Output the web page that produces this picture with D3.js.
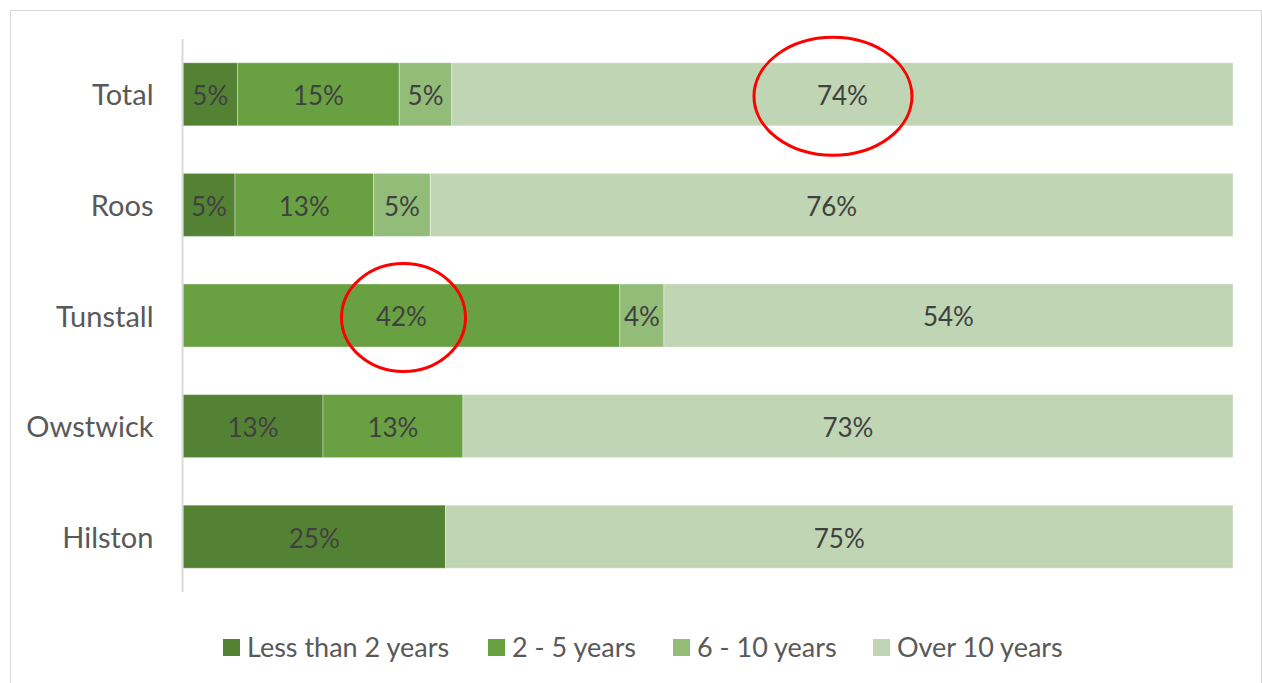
<!DOCTYPE html>
<html>
<head>
<meta charset="utf-8">
<script src="https://cdn.jsdelivr.net/npm/d3@7"></script>
<style>
  body { margin: 0; background: #fff; }
  text { font-family: Lato, "Noto Sans", sans-serif; }
</style>
</head>
<body>
<div id="chart"></div>
<script>
// Data (percent of respondents per place)
var places = ['Total', 'Roos', 'Tunstall', 'Owstwick', 'Hilston'];
var groups = ['Less than 2 years', '2 - 5 years', '6 - 10 years', 'Over 10 years'];
var lessThan2 = [5.2, 4.95, 0, 13.33, 25];
var twoToFive = [15.4, 13.2, 41.6, 13.33, 0];
var sixToTen = [5.0, 5.4, 4.2, 0, 0];
var over10 = [74.4, 76.45, 54.2, 73.34, 75];
var colors = ['#548235', '#69a142', '#93bc79', '#bfd5b4'];

// highlighted labels: [place, x position in percent]
var highlights = [['Total', 61.9], ['Tunstall', 21.0]];

var svgWidth = 1262;
var svgHeight = 683;

var svg = d3.select('#chart')
    .append('svg')
    .attr('width', svgWidth)
    .attr('height', svgHeight);

// outer frame
svg.append('rect')
    .attr('x', 10.5)
    .attr('y', 10.5)
    .attr('width', 1251)
    .attr('height', 700)
    .attr('fill', 'none')
    .attr('stroke', '#d9d9d9');

var rows = places.map((p, i) => ({
    place: p,
    'Less than 2 years': lessThan2[i],
    '2 - 5 years': twoToFive[i],
    '6 - 10 years': sixToTen[i],
    'Over 10 years': over10[i]
}));

var stacked = d3.stack().keys(groups)(rows);

var x = d3.scaleLinear()
    .domain([0, 100])
    .range([183, 1233]);

var y = d3.scaleBand()
    .domain(places)
    .range([39, 592])
    .paddingInner(0.43)
    .paddingOuter(0.215);

var color = d3.scaleOrdinal()
    .domain(groups)
    .range(colors);

// segments
var layer = svg.selectAll('g.layer')
    .data(stacked)
    .enter()
    .append('g')
    .attr('class', 'layer')
    .attr('fill', d => color(d.key));

layer.selectAll('rect')
    .data(d => d)
    .enter()
    .filter(d => d[1] - d[0] > 0)
    .append('rect')
    .attr('x', d => x(d[0]))
    .attr('y', d => y(d.data.place))
    .attr('width', d => x(d[1]) - x(d[0]))
    .attr('height', y.bandwidth())
    .attr('stroke', '#ffffff')
    .attr('stroke-opacity', 0.35)
    .attr('stroke-width', 1);

// data labels
layer.selectAll('text')
    .data(d => d)
    .enter()
    .filter(d => d[1] - d[0] > 0)
    .append('text')
    .attr('x', d => x((d[0] + d[1]) / 2))
    .attr('y', d => y(d.data.place) + y.bandwidth() / 2)
    .attr('dy', '0.42em')
    .attr('text-anchor', 'middle')
    .attr('fill', '#404040')
    .style('font-size', '26px')
    .text(d => Math.round(d[1] - d[0]) + '%');

// category axis
var yAxis = svg.append('g')
    .attr('transform', 'translate(182.5,0)')
    .call(d3.axisLeft(y).tickSize(0).tickPadding(29));

yAxis.select('.domain')
    .attr('d', 'M0,39V592')
    .attr('stroke', '#d9d9d9')
    .attr('stroke-width', 2);

yAxis.selectAll('text')
    .attr('fill', '#595959')
    .attr('dy', '0.38em')
    .style('font-size', '29px')
    .style('font-family', 'Lato, "Noto Sans", sans-serif');

// annotation circles
svg.selectAll('ellipse')
    .data(highlights)
    .enter()
    .append('ellipse')
    .attr('cx', d => x(d[1]))
    .attr('cy', d => y(d[0]) + y.bandwidth() / 2 + 2)
    .attr('rx', (d, i) => i === 0 ? 79 : 62)
    .attr('ry', (d, i) => i === 0 ? 59 : 54)
    .attr('fill', 'none')
    .attr('stroke', '#ff0000')
    .attr('stroke-width', 3);

// legend
var legendX = [223, 488, 673, 873];
var legend = svg.selectAll('g.legend')
    .data(groups)
    .enter()
    .append('g')
    .attr('class', 'legend')
    .attr('transform', (d, i) => `translate(${legendX[i]},639)`);

legend.append('rect')
    .attr('width', 17)
    .attr('height', 17)
    .attr('fill', d => color(d));

legend.append('text')
    .attr('x', 24)
    .attr('y', 18)
    .attr('fill', '#595959')
    .style('font-size', '27px')
    .text(d => d);
</script>
</body>
</html>
